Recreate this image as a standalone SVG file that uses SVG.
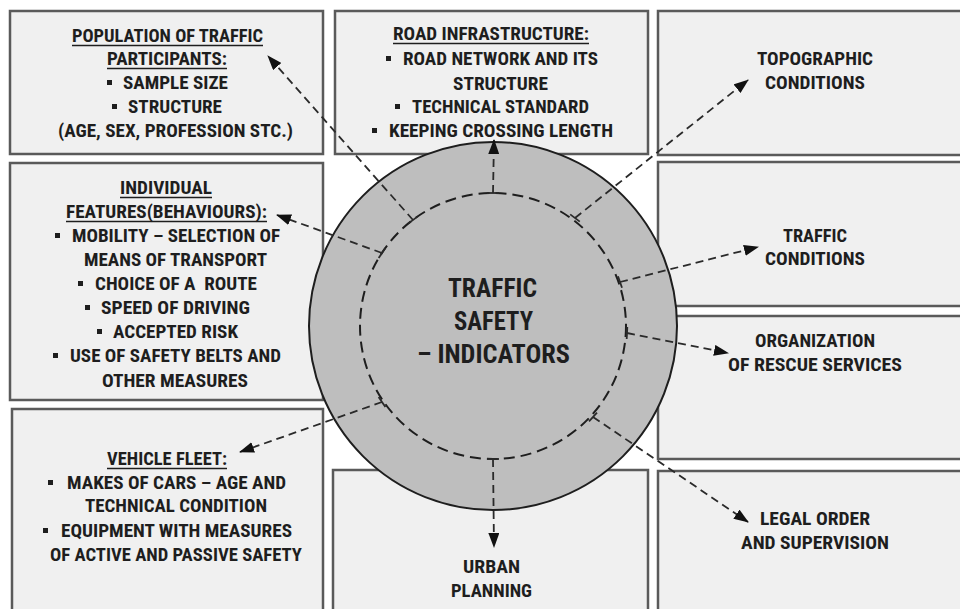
<svg xmlns="http://www.w3.org/2000/svg" width="960" height="609" viewBox="0 0 960 609">
<style>
.box{fill:#f0f0f0;stroke:#5a5a5a;stroke-width:2.5}
.t{font-family:"Liberation Sans Narrow","Roboto Condensed","Liberation Sans",Arial,sans-serif;font-weight:bold;font-size:18px;fill:#1e1e1e}
.c{font-size:26px}
.ul{stroke:#1e1e1e;stroke-width:1.5}
.b{fill:#1e1e1e}
.con{fill:none;stroke:#2a2a2a;stroke-width:1.8;stroke-dasharray:8 5}
.tick{stroke:#2a2a2a;stroke-width:1.8}
</style>
<defs>
<marker id="ah" markerUnits="userSpaceOnUse" markerWidth="15" markerHeight="11" refX="14" refY="5.5" orient="auto">
<path d="M0,0 L15,5.5 L0,11 z" fill="#111"/>
</marker>
</defs>
<rect width="960" height="609" fill="#fff"/>

<g id="population">
<rect class="box" x="10" y="11" width="313" height="143"/>
<text class="t" x="72" y="42" textLength="191" lengthAdjust="spacingAndGlyphs">POPULATION OF TRAFFIC</text>
<line class="ul" x1="72" y1="45.5" x2="263" y2="45.5"/>
<text class="t" x="107" y="65" textLength="120" lengthAdjust="spacingAndGlyphs">PARTICIPANTS:</text>
<line class="ul" x1="107" y1="68.5" x2="227" y2="68.5"/>
<rect class="b" x="107" y="80" width="5" height="5"/>
<text class="t" x="123" y="89" textLength="105" lengthAdjust="spacingAndGlyphs">SAMPLE SIZE</text>
<rect class="b" x="112" y="104" width="5" height="5"/>
<text class="t" x="128" y="113" textLength="94" lengthAdjust="spacingAndGlyphs">STRUCTURE</text>
<text class="t" x="58" y="137" textLength="235" lengthAdjust="spacingAndGlyphs">(AGE, SEX, PROFESSION STC.)</text>
</g>

<g id="road">
<rect class="box" x="335" y="11" width="313" height="143"/>
<text class="t" x="393" y="40" textLength="196" lengthAdjust="spacingAndGlyphs">ROAD INFRASTRUCTURE:</text>
<line class="ul" x1="393" y1="43.5" x2="589" y2="43.5"/>
<rect class="b" x="386" y="56" width="5" height="5"/>
<text class="t" x="403" y="65" textLength="195" lengthAdjust="spacingAndGlyphs">ROAD NETWORK AND ITS</text>
<text class="t" x="453" y="90" textLength="95" lengthAdjust="spacingAndGlyphs">STRUCTURE</text>
<rect class="b" x="395" y="104" width="5" height="5"/>
<text class="t" x="412" y="113" textLength="177" lengthAdjust="spacingAndGlyphs">TECHNICAL STANDARD</text>
<rect class="b" x="372" y="128" width="5" height="5"/>
<text class="t" x="389" y="137" textLength="224" lengthAdjust="spacingAndGlyphs">KEEPING CROSSING LENGTH</text>
</g>

<g id="topographic">
<rect class="box" x="658" y="11" width="310" height="144"/>
<text class="t" x="757" y="65" textLength="116" lengthAdjust="spacingAndGlyphs">TOPOGRAPHIC</text>
<text class="t" x="765" y="89" textLength="100" lengthAdjust="spacingAndGlyphs">CONDITIONS</text>
</g>

<g id="traffic">
<rect class="box" x="658" y="162" width="310" height="144"/>
<text class="t" x="783" y="242" textLength="64" lengthAdjust="spacingAndGlyphs">TRAFFIC</text>
<text class="t" x="765" y="265" textLength="100" lengthAdjust="spacingAndGlyphs">CONDITIONS</text>
</g>

<g id="organization">
<rect class="box" x="658" y="316" width="310" height="143"/>
<text class="t" x="755" y="347" textLength="120" lengthAdjust="spacingAndGlyphs">ORGANIZATION</text>
<text class="t" x="728" y="371" textLength="174" lengthAdjust="spacingAndGlyphs">OF RESCUE SERVICES</text>
</g>

<g id="legal">
<rect class="box" x="658" y="471" width="310" height="150"/>
<text class="t" x="760" y="525" textLength="110" lengthAdjust="spacingAndGlyphs">LEGAL ORDER</text>
<text class="t" x="741" y="549" textLength="148" lengthAdjust="spacingAndGlyphs">AND SUPERVISION</text>
</g>

<g id="urban">
<rect class="box" x="333" y="470" width="315" height="151"/>
<text class="t" x="463" y="573" textLength="57" lengthAdjust="spacingAndGlyphs">URBAN</text>
<text class="t" x="451" y="597" textLength="81" lengthAdjust="spacingAndGlyphs">PLANNING</text>
</g>

<g id="individual">
<rect class="box" x="10" y="163" width="313" height="237"/>
<text class="t" x="120" y="194" textLength="92" lengthAdjust="spacingAndGlyphs">INDIVIDUAL</text>
<line class="ul" x1="120" y1="197.5" x2="212" y2="197.5"/>
<text class="t" x="66" y="218" textLength="201" lengthAdjust="spacingAndGlyphs">FEATURES(BEHAVIOURS):</text>
<line class="ul" x1="66" y1="221.5" x2="267" y2="221.5"/>
<rect class="b" x="55" y="233" width="5" height="5"/>
<text class="t" x="72" y="242" textLength="208" lengthAdjust="spacingAndGlyphs">MOBILITY – SELECTION OF</text>
<text class="t" x="84" y="266" textLength="183" lengthAdjust="spacingAndGlyphs">MEANS OF TRANSPORT</text>
<rect class="b" x="78" y="281" width="5" height="5"/>
<text class="t" x="95" y="290" textLength="162" lengthAdjust="spacingAndGlyphs" xml:space="preserve">CHOICE OF A  ROUTE</text>
<rect class="b" x="85" y="305" width="5" height="5"/>
<text class="t" x="101" y="314" textLength="149" lengthAdjust="spacingAndGlyphs">SPEED OF DRIVING</text>
<rect class="b" x="97" y="329" width="5" height="5"/>
<text class="t" x="113" y="338" textLength="125" lengthAdjust="spacingAndGlyphs">ACCEPTED RISK</text>
<rect class="b" x="53" y="353" width="5" height="5"/>
<text class="t" x="70" y="362" textLength="211" lengthAdjust="spacingAndGlyphs">USE OF SAFETY BELTS AND</text>
<text class="t" x="102" y="387" textLength="146" lengthAdjust="spacingAndGlyphs">OTHER MEASURES</text>
</g>

<g id="vehicle">
<rect class="box" x="12" y="409" width="311" height="212"/>
<text class="t" x="107" y="465" textLength="120" lengthAdjust="spacingAndGlyphs">VEHICLE FLEET:</text>
<line class="ul" x1="107" y1="468.5" x2="227" y2="468.5"/>
<rect class="b" x="48" y="480" width="5" height="5"/>
<text class="t" x="67" y="489" textLength="219" lengthAdjust="spacingAndGlyphs">MAKES OF CARS – AGE AND</text>
<text class="t" x="85" y="512" textLength="182" lengthAdjust="spacingAndGlyphs">TECHNICAL CONDITION</text>
<rect class="b" x="43" y="528" width="5" height="5"/>
<text class="t" x="61" y="537" textLength="231" lengthAdjust="spacingAndGlyphs">EQUIPMENT WITH MEASURES</text>
<text class="t" x="50" y="561" textLength="252" lengthAdjust="spacingAndGlyphs">OF ACTIVE AND PASSIVE SAFETY</text>
</g>

<g id="center">
<circle cx="493" cy="326" r="184" fill="#bebebe" stroke="#1e1e1e" stroke-width="2"/>
<circle cx="493" cy="326" r="133" fill="none" stroke="#1e1e1e" stroke-width="2" stroke-dasharray="11 6"/>
<text class="t c" x="448" y="297" textLength="89" lengthAdjust="spacingAndGlyphs">TRAFFIC</text>
<text class="t c" x="454" y="330" textLength="79" lengthAdjust="spacingAndGlyphs">SAFETY</text>
<text class="t c" x="417" y="363" textLength="153" lengthAdjust="spacingAndGlyphs">– INDICATORS</text>
</g>

<g id="connectors">
<line class="con" x1="413" y1="220" x2="268" y2="56" marker-end="url(#ah)"/>
<line class="tick" x1="408.2" y1="223.6" x2="417.8" y2="216.4"/>
<line class="con" x1="493" y1="193" x2="494" y2="140" marker-end="url(#ah)"/>
<line class="tick" x1="487" y1="193" x2="499" y2="193"/>
<line class="con" x1="575" y1="218" x2="748" y2="80" marker-end="url(#ah)"/>
<line class="tick" x1="570.2" y1="214.4" x2="579.8" y2="221.6"/>
<line class="con" x1="620" y1="282" x2="758" y2="247" marker-end="url(#ah)"/>
<line class="tick" x1="618" y1="276.3" x2="622" y2="287.7"/>
<line class="con" x1="627" y1="333" x2="728" y2="353" marker-end="url(#ah)"/>
<line class="tick" x1="627.3" y1="327" x2="626.7" y2="339"/>
<line class="con" x1="593" y1="417" x2="748" y2="522" marker-end="url(#ah)"/>
<line class="tick" x1="597" y1="412.6" x2="589" y2="421.4"/>
<line class="con" x1="493" y1="459" x2="494" y2="547" marker-end="url(#ah)"/>
<line class="tick" x1="487" y1="459" x2="499" y2="459"/>
<line class="con" x1="382" y1="402" x2="240" y2="452" marker-end="url(#ah)"/>
<line class="tick" x1="385.4" y1="407" x2="378.6" y2="397"/>
<line class="con" x1="382" y1="253" x2="277" y2="215" marker-end="url(#ah)"/>
<line class="tick" x1="378.7" y1="258" x2="385.3" y2="248"/>
</g>
</svg>
